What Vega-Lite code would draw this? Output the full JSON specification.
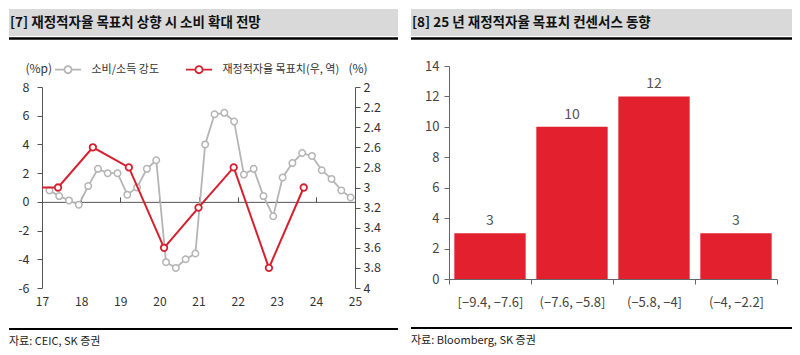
{
  "$schema": "https://vega.github.io/schema/vega-lite/v6.json",
  "padding": {"left": 7, "top": 9, "right": 5, "bottom": 0},
  "background": "white",
  "config": {
    "font": "Noto Sans CJK KR",
    "view": {"stroke": null},
    "axis": {"grid": false, "domainColor": "#555555", "tickColor": "#555555", "labelColor": "#3a3a3a", "labelFont": "Noto Sans CJK KR", "titleFont": "Noto Sans CJK KR", "labelOverlap": false},
    "legend": {"labelFont": "Noto Sans CJK KR"}
  },
  "datasets": {
    "gray": [
      {"t": 2017.19, "v": 0.8}, {"t": 2017.44, "v": 0.4}, {"t": 2017.69, "v": 0.1}, {"t": 2017.94, "v": -0.2},
      {"t": 2018.18, "v": 1.1}, {"t": 2018.43, "v": 2.3}, {"t": 2018.68, "v": 2.0}, {"t": 2018.93, "v": 2.0},
      {"t": 2019.18, "v": 0.5}, {"t": 2019.43, "v": 1.0}, {"t": 2019.68, "v": 2.3}, {"t": 2019.92, "v": 2.9},
      {"t": 2020.17, "v": -4.2}, {"t": 2020.42, "v": -4.6}, {"t": 2020.67, "v": -4.0}, {"t": 2020.92, "v": -3.6},
      {"t": 2021.17, "v": 4.0}, {"t": 2021.41, "v": 6.1}, {"t": 2021.66, "v": 6.2}, {"t": 2021.91, "v": 5.6},
      {"t": 2022.16, "v": 1.9}, {"t": 2022.41, "v": 2.3}, {"t": 2022.66, "v": 0.4}, {"t": 2022.91, "v": -1.0},
      {"t": 2023.15, "v": 1.7}, {"t": 2023.4, "v": 2.7}, {"t": 2023.65, "v": 3.4}, {"t": 2023.9, "v": 3.2},
      {"t": 2024.15, "v": 2.2}, {"t": 2024.4, "v": 1.6}, {"t": 2024.65, "v": 0.8}, {"t": 2024.89, "v": 0.3}
    ],
    "red": [
      {"t": 2016.5, "v": 3.0}, {"t": 2017.41, "v": 3.0}, {"t": 2018.3, "v": 2.6}, {"t": 2019.22, "v": 2.8},
      {"t": 2020.12, "v": 3.6}, {"t": 2021.0, "v": 3.2}, {"t": 2021.9, "v": 2.8}, {"t": 2022.8, "v": 3.8},
      {"t": 2023.69, "v": 3.0}
    ],
    "bins": [
      {"range": "[−9.4, −7.6]", "count": 3},
      {"range": "(−7.6, −5.8]", "count": 10},
      {"range": "(−5.8, −4]", "count": 12},
      {"range": "(−4, −2.2]", "count": 3}
    ]
  },
  "hconcat": [
    {
      "concat": [
        {
          "width": 356, "height": 27,
          "data": {"values": [{"title": "[7] 재정적자율 목표치 상향 시 소비 확대 전망", "x0": -0.0927, "x1": 1}]},
          "encoding": {
            "x": {"field": "x0", "type": "quantitative", "scale": {"domain": [0, 1], "nice": false, "zero": false}, "axis": null}
          },
          "layer": [
            {"mark": {"type": "rect", "color": "#d9d9d9"},
             "encoding": {"x2": {"field": "x1"}, "y": {"datum": 0, "type": "quantitative", "scale": {"domain": [0, 1]}, "axis": null}, "y2": {"datum": 1}}},
            {"mark": {"type": "rule", "color": "#000000", "strokeWidth": 2.5, "yOffset": 2.5},
             "encoding": {"x2": {"field": "x1"}, "y": {"datum": 0, "type": "quantitative", "scale": {"domain": [0, 1]}, "axis": null}}},
            {"mark": {"type": "text", "align": "left", "baseline": "middle", "fontSize": 13.5, "fontWeight": "bold", "color": "#111111", "dx": 1},
             "encoding": {
               "y": {"datum": 0.5, "type": "quantitative", "scale": {"domain": [0, 1]}, "axis": null},
               "text": {"field": "title"}}}
          ]
        },
        {
          "concat": [
            {
              "width": 313, "height": 201,
              "layer": [
                {
                  "data": {"name": "gray"},
                  "layer": [
                    {"mark": {"type": "line", "strokeWidth": 1.8},
                     "encoding": {
                       "x": {"field": "t", "type": "quantitative", "scale": {"domain": [2017, 2025], "nice": false, "zero": false},
                             "axis": {"values": [2017, 2018, 2019, 2020, 2021, 2022, 2023, 2024, 2025], "tickCount": 20, "labelExpr": "'' + (datum.value - 2000)",
                                      "offset": -86.14, "tickSize": -5, "labelPadding": 100, "labelFontSize": 12,
                                      "labelColor": "#333333", "labelFlush": false, "labelOverlap": false, "title": null}},
                       "y": {"field": "v", "type": "quantitative", "scale": {"domain": [-6, 8], "nice": false, "zero": false},
                             "axis": {"values": [-6, -4, -2, 0, 2, 4, 6, 8], "tickCount": 20, "labelExpr": "'' + datum.value", "tickSize": 5, "labelPadding": 8,
                                      "labelFontSize": 12.5, "labelColor": "#333333", "labelOverlap": false, "title": "(%p)", "titleAngle": 0, "titleAlign": "left",
                                      "titleBaseline": "middle", "titleX": -17, "titleY": -19, "titleFontSize": 12, "titleFontWeight": "normal", "titleColor": "#333333"}},
                       "color": {"datum": "소비/소득 강도", "type": "nominal",
                                 "scale": {"domain": ["소비/소득 강도", "재정적자율 목표치(우, 역)"], "range": ["#b5b5b5", "#d7202f"]},
                                 "legend": {"orient": "none", "legendX": 18.5, "legendY": -25, "direction": "horizontal", "title": null,
                                            "symbolType": "M-2,0H-0.55M0.55,0H2M-0.55,0A0.55,0.55 0 1,0 0.55,0A0.55,0.55 0 1,0 -0.55,0",
                                            "symbolSize": 169, "symbolStrokeWidth": 1.8, "symbolFillColor": "white",
                                            "labelFontSize": 11, "labelColor": "#333333", "labelOffset": 16, "columnPadding": 22}}
                     }},
                    {"mark": {"type": "point", "shape": "circle", "filled": true, "fill": "white", "stroke": "#b5b5b5", "strokeWidth": 1.5, "size": 42, "opacity": 1},
                     "encoding": {"x": {"field": "t", "type": "quantitative"}, "y": {"field": "v", "type": "quantitative"}}}
                  ]
                },
                {
                  "data": {"name": "red"},
                  "layer": [
                    {"mark": {"type": "line", "strokeWidth": 2, "clip": true},
                     "encoding": {
                       "x": {"field": "t", "type": "quantitative"},
                       "y": {"field": "v", "type": "quantitative", "scale": {"domain": [2, 4], "reverse": true, "nice": false, "zero": false},
                             "axis": {"orient": "right", "values": [2, 2.2, 2.4, 2.6, 2.8, 3, 3.2, 3.4, 3.6, 3.8, 4], "tickCount": 20, "labelExpr": "'' + datum.value",
                                      "tickSize": 5, "labelPadding": 3, "labelFontSize": 12.5, "labelColor": "#333333", "title": "(%)", "titleAngle": 0,
                                      "titleAlign": "left", "titleBaseline": "middle", "titleX": -7, "titleY": -19, "titleFontSize": 12,
                                      "titleFontWeight": "normal", "titleColor": "#333333", "labelOverlap": false}},
                       "color": {"datum": "재정적자율 목표치(우, 역)", "type": "nominal"}
                     }},
                    {"mark": {"type": "point", "shape": "circle", "filled": true, "fill": "white", "stroke": "#d7202f", "strokeWidth": 1.8, "size": 42, "opacity": 1, "clip": true},
                     "encoding": {"x": {"field": "t", "type": "quantitative"}, "y": {"field": "v", "type": "quantitative"}}}
                  ]
                }
              ],
              "resolve": {"scale": {"y": "independent"}}
            },
            {
              "width": 356, "height": 26,
              "data": {"values": [{"src": "자료: CEIC, SK 증권", "x0": -0.0927, "x1": 1}]},
              "encoding": {
                "x": {"field": "x0", "type": "quantitative", "scale": {"domain": [0, 1], "nice": false, "zero": false}, "axis": null}
              },
              "layer": [
                {"mark": {"type": "rule", "color": "#000000", "strokeWidth": 2},
                 "encoding": {"x2": {"field": "x1"}, "y": {"datum": 1, "type": "quantitative", "scale": {"domain": [0, 1]}, "axis": null}}},
                {"mark": {"type": "text", "align": "left", "baseline": "middle", "fontSize": 11, "color": "#222222"},
                 "encoding": {
                   "y": {"datum": 0.5, "type": "quantitative", "scale": {"domain": [0, 1]}, "axis": null},
                   "text": {"field": "src"}}}
              ]
            }
          ],
          "columns": 1, "spacing": 20, "align": "none",
          "resolve": {"scale": {"color": "independent"}, "legend": {"color": "independent"}}
        }
      ],
      "columns": 1, "spacing": 22, "align": "none",
      "resolve": {"scale": {"color": "independent"}, "legend": {"color": "independent"}}
    },
    {
      "concat": [
        {
          "width": 343, "height": 27,
          "data": {"values": [{"title": "[8] 25 년 재정적자율 목표치 컨센서스 동향", "x0": -0.1108, "x1": 1}]},
          "encoding": {
            "x": {"field": "x0", "type": "quantitative", "scale": {"domain": [0, 1], "nice": false, "zero": false}, "axis": null}
          },
          "layer": [
            {"mark": {"type": "rect", "color": "#d9d9d9"},
             "encoding": {"x2": {"field": "x1"}, "y": {"datum": 0, "type": "quantitative", "scale": {"domain": [0, 1]}, "axis": null}, "y2": {"datum": 1}}},
            {"mark": {"type": "rule", "color": "#000000", "strokeWidth": 2.5, "yOffset": 2.5},
             "encoding": {"x2": {"field": "x1"}, "y": {"datum": 0, "type": "quantitative", "scale": {"domain": [0, 1]}, "axis": null}}},
            {"mark": {"type": "text", "align": "left", "baseline": "middle", "fontSize": 13.5, "fontWeight": "bold", "color": "#111111", "dx": 1},
             "encoding": {
               "y": {"datum": 0.5, "type": "quantitative", "scale": {"domain": [0, 1]}, "axis": null},
               "text": {"field": "title"}}}
          ]
        },
        {
          "concat": [
            {
              "width": 328, "height": 213,
              "data": {"name": "bins"},
              "encoding": {
                "x": {"field": "range", "type": "nominal", "sort": null, "scale": {"paddingInner": 0, "paddingOuter": 0},
                      "axis": {"labelAngle": 0, "tickBand": "extent", "tickSize": 5, "labelPadding": 12, "labelFontSize": 13, "labelColor": "#444444",
                               "domainColor": "#666666", "tickColor": "#666666", "title": null}},
                "y": {"field": "count", "type": "quantitative", "scale": {"domain": [0, 14], "nice": false},
                      "axis": {"values": [0, 2, 4, 6, 8, 10, 12, 14], "tickCount": 20, "format": "d", "tickSize": 5, "labelPadding": 5, "labelFontSize": 13, "labelColor": "#444444", "title": null, "domainColor": "#666666", "tickColor": "#666666"}}
              },
              "layer": [
                {"mark": {"type": "bar", "color": "#e3202e", "width": {"band": 0.87}}},
                {"mark": {"type": "text", "baseline": "bottom", "dy": -5, "fontSize": 14, "color": "#555555"},
                 "encoding": {"text": {"field": "count", "type": "quantitative"}}}
              ]
            },
            {
              "width": 343, "height": 26,
              "data": {"values": [{"src": "자료: Bloomberg, SK 증권", "x0": -0.1108, "x1": 1}]},
              "encoding": {
                "x": {"field": "x0", "type": "quantitative", "scale": {"domain": [0, 1], "nice": false, "zero": false}, "axis": null}
              },
              "layer": [
                {"mark": {"type": "rule", "color": "#000000", "strokeWidth": 2},
                 "encoding": {"x2": {"field": "x1"}, "y": {"datum": 1, "type": "quantitative", "scale": {"domain": [0, 1]}, "axis": null}}},
                {"mark": {"type": "text", "align": "left", "baseline": "middle", "fontSize": 11, "color": "#222222"},
                 "encoding": {
                   "y": {"datum": 0.5, "type": "quantitative", "scale": {"domain": [0, 1]}, "axis": null},
                   "text": {"field": "src"}}}
              ]
            }
          ],
          "columns": 1, "spacing": 18, "align": "none"
        }
      ],
      "columns": 1, "spacing": 20, "align": "none"
    }
  ],
  "spacing": 9,
  "resolve": {"scale": {"color": "independent"}, "legend": {"color": "independent"}}
}
